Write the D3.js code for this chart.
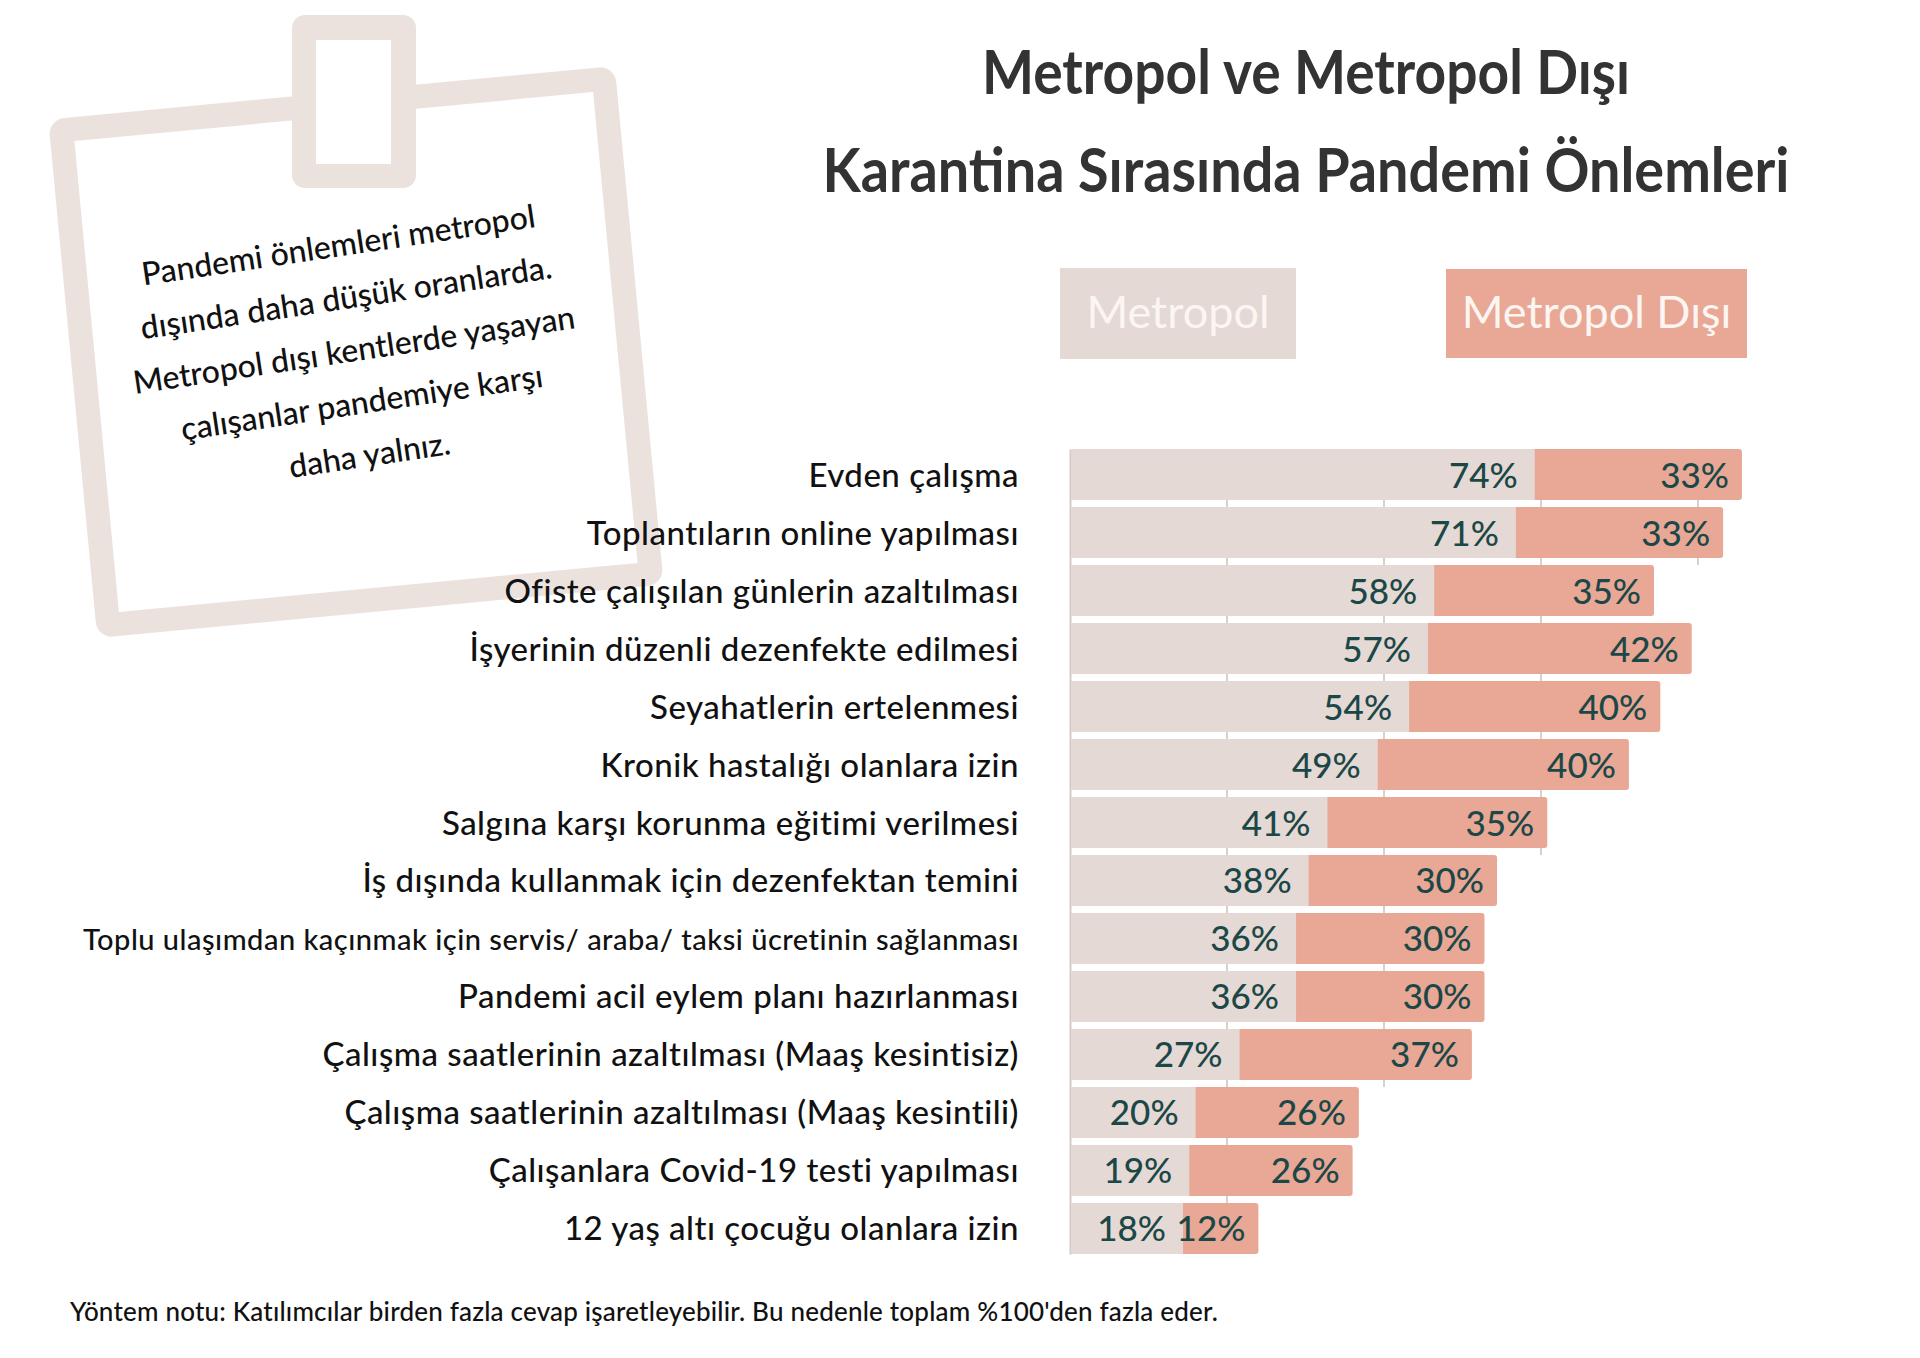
<!DOCTYPE html>
<html>
<head>
<meta charset="utf-8">
<script src="https://cdn.jsdelivr.net/npm/d3@7"></script>
<style>
  html, body { margin: 0; padding: 0; background: #ffffff; }
  svg { display: block; }
  text { font-family: "Lato", "Noto Sans", sans-serif; }
</style>
</head>
<body>
<svg id="chart" width="1920" height="1358"></svg>
<script>
// ---- Data ----
const categories = [
  "Evden çalışma",
  "Toplantıların online yapılması",
  "Ofiste çalışılan günlerin azaltılması",
  "İşyerinin düzenli dezenfekte edilmesi",
  "Seyahatlerin ertelenmesi",
  "Kronik hastalığı olanlara izin",
  "Salgına karşı korunma eğitimi verilmesi",
  "İş dışında kullanmak için dezenfektan temini",
  "Toplu ulaşımdan kaçınmak için servis/ araba/ taksi ücretinin sağlanması",
  "Pandemi acil eylem planı hazırlanması",
  "Çalışma saatlerinin azaltılması (Maaş kesintisiz)",
  "Çalışma saatlerinin azaltılması (Maaş kesintili)",
  "Çalışanlara Covid-19 testi yapılması",
  "12 yaş altı çocuğu olanlara izin"
];
const metropol     = [74, 71, 58, 57, 54, 49, 41, 38, 36, 36, 27, 20, 19, 18];
const metropolDisi = [33, 33, 35, 42, 40, 40, 35, 30, 30, 30, 37, 26, 26, 12];
const gridTicks = [25, 50, 75, 100];
const seriesNames = ["Metropol", "Metropol Dışı"];
const titleLines = ["Metropol ve Metropol Dışı", "Karantina Sırasında Pandemi Önlemleri"];
const noteLines = [
  "Pandemi önlemleri metropol",
  "dışında daha düşük oranlarda.",
  "Metropol dışı kentlerde yaşayan",
  "çalışanlar pandemiye karşı",
  "daha yalnız."
];
const footnote = "Yöntem notu: Katılımcılar birden fazla cevap işaretleyebilir. Bu nedenle toplam %100'den fazla eder.";

// ---- Styles ----
const colMetro = "#e5d9d5";
const colDisi = "#e9a896";
const colValue = "#1c4747";
const colFrame = "#ebe2de";

const svg = d3.select("#chart");

// ---- Note frame ----
const frameW = 569, frameH = 521, frameT = 24;
const frame = svg.append("g").attr("transform", "translate(356,352) rotate(-5.4)");
frame.append("rect")
  .attr("x", -frameW / 2 + frameT / 2).attr("y", -frameH / 2 + frameT / 2)
  .attr("width", frameW - frameT).attr("height", frameH - frameT)
  .attr("rx", 4)
  .attr("fill", "none").attr("stroke", colFrame).attr("stroke-width", frameT);

// clip tab
svg.append("rect").attr("x", 292).attr("y", 15).attr("width", 124).attr("height", 173)
  .attr("rx", 13).attr("fill", colFrame);
svg.append("rect").attr("x", 316).attr("y", 40).attr("width", 75).attr("height", 124)
  .attr("fill", "#ffffff");

// note text
const note = svg.append("g").attr("transform", "translate(354,350) rotate(-8.5)");
note.selectAll("text").data(noteLines).join("text")
  .attr("x", 0).attr("y", (d, i) => (i - 2) * 53)
  .attr("dy", "0.35em")
  .attr("text-anchor", "middle")
  .attr("font-size", 32).attr("font-weight", 500)
  .attr("fill", "#111111")
  .text(d => d);

// ---- Title ----
const titleBaselines = [94, 192];
const titleWidths = [648, 967];
svg.selectAll("text.title").data(titleLines).join("text")
  .attr("class", "title")
  .attr("x", 1306).attr("y", (d, i) => titleBaselines[i])
  .attr("text-anchor", "middle")
  .attr("font-size", 62).attr("font-weight", 700)
  .attr("fill", "#333333")
  .attr("textLength", (d, i) => titleWidths[i])
  .attr("lengthAdjust", "spacingAndGlyphs")
  .text(d => d);

// ---- Legend ----
const legendBoxes = [
  { x: 1060, y: 268, w: 236, h: 91, c: colMetro },
  { x: 1446, y: 269, w: 301, h: 89, c: colDisi }
];
const legend = svg.selectAll("g.legend").data(seriesNames).join("g").attr("class", "legend");
legend.append("rect")
  .attr("x", (d, i) => legendBoxes[i].x).attr("y", (d, i) => legendBoxes[i].y)
  .attr("width", (d, i) => legendBoxes[i].w).attr("height", (d, i) => legendBoxes[i].h)
  .attr("fill", (d, i) => legendBoxes[i].c);
legend.append("text")
  .attr("x", (d, i) => legendBoxes[i].x + legendBoxes[i].w / 2)
  .attr("y", 328)
  .attr("text-anchor", "middle")
  .attr("font-size", 45).attr("font-weight", 400)
  .attr("fill", "#fbf6f2")
  .text(d => d);

// ---- Chart ----
const rows = categories.map((c, i) => ({ c, m: metropol[i], d: metropolDisi[i] }));
const x = d3.scaleLinear().domain([0, 100]).range([1070, 1698]);
const y = d3.scaleBand().domain(categories).range([449, 1254]).paddingInner(0.12).paddingOuter(0);
const bw = y.bandwidth();

// gridlines (visible in gaps between bars that reach them)
const grid = svg.append("g");
gridTicks.forEach(g => {
  let last = -1;
  rows.forEach((r, i) => { if (r.m + r.d >= g) last = i; });
  if (last < 0) return;
  const y2 = last < rows.length - 1 ? y(categories[last + 1]) : y(categories[last]) + bw;
  grid.append("line")
    .attr("x1", x(g)).attr("x2", x(g))
    .attr("y1", y(categories[0])).attr("y2", y2)
    .attr("stroke", "#d8d0cd").attr("stroke-width", 2);
});
// axis line
svg.append("g")
  .attr("transform", `translate(${x(0)},0)`)
  .call(d3.axisLeft(y).tickSize(0).tickFormat(""))
  .call(g => g.select(".domain").attr("stroke", "#d3cbc8").attr("stroke-width", 2));

const bars = svg.append("g").selectAll("g").data(rows).join("g");
bars.append("rect")
  .attr("x", r => x(r.m) - 5)
  .attr("y", r => y(r.c))
  .attr("width", r => x(r.m + r.d) - x(r.m) + 5)
  .attr("height", bw)
  .attr("rx", 3)
  .attr("fill", colDisi);
bars.append("rect")
  .attr("x", x(0) + 1)
  .attr("y", r => y(r.c))
  .attr("width", r => x(r.m) - x(0) - 1)
  .attr("height", bw)
  .attr("fill", colMetro);

// value labels
bars.append("text")
  .attr("x", r => x(r.m) - 17)
  .attr("y", r => y(r.c) + bw / 2 + 13)
  .attr("text-anchor", "end")
  .attr("font-size", 35).attr("font-weight", 500)
  .attr("fill", colValue)
  .text(r => r.m + "%");
bars.append("text")
  .attr("x", r => x(r.m + r.d) - 13)
  .attr("y", r => y(r.c) + bw / 2 + 13)
  .attr("text-anchor", "end")
  .attr("font-size", 35).attr("font-weight", 500)
  .attr("fill", colValue)
  .text(r => r.d + "%");

// category labels
svg.append("g").selectAll("text").data(rows).join("text")
  .attr("x", 1019)
  .attr("y", r => y(r.c) + bw / 2 + 12)
  .attr("text-anchor", "end")
  .attr("font-size", r => r.c.length > 60 ? 29 : 33)
  .attr("letter-spacing", 0.5)
  .attr("font-weight", 500)
  .attr("fill", "#111111")
  .text(r => r.c);

// footnote
svg.append("text")
  .attr("x", 70).attr("y", 1321)
  .attr("font-size", 26).attr("font-weight", 500)
  .attr("letter-spacing", 0.2)
  .attr("fill", "#111111")
  .text(footnote);
</script>
</body>
</html>
